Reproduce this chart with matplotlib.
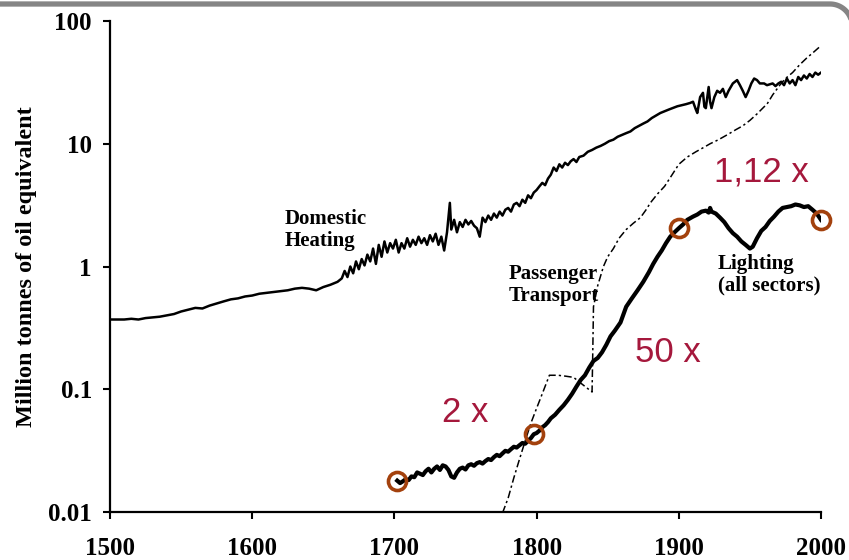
import numpy as np
import matplotlib

matplotlib.use("Agg")
import matplotlib.pyplot as plt
from matplotlib.lines import Line2D

# =========================
# DATA (million tonnes of oil equivalent)
# =========================

heating_years = [
    1500, 1510, 1515, 1520, 1525, 1530, 1535, 1540, 1545, 1550,
    1555, 1560, 1565, 1570, 1575, 1580, 1585, 1590, 1595, 1600,
    1605, 1610, 1615, 1620, 1625, 1630, 1635, 1640, 1645, 1650,
    1655, 1660, 1663, 1665, 1667, 1669, 1671, 1673, 1675, 1677,
    1679, 1681, 1683, 1685, 1687, 1689, 1691, 1693, 1695, 1697,
    1699, 1701, 1703, 1705, 1707, 1709, 1711, 1713, 1715, 1717,
    1719, 1721, 1723, 1725, 1727, 1729, 1731, 1733, 1735, 1737,
    1739, 1740, 1742, 1744, 1746, 1748, 1750, 1752, 1754, 1756,
    1758, 1760, 1762, 1764, 1766, 1768, 1770, 1772, 1774, 1776,
    1778, 1780, 1782, 1784, 1786, 1788, 1790, 1792, 1794, 1796,
    1798, 1800, 1802, 1804, 1806, 1808, 1810, 1812, 1814, 1816,
    1818, 1820, 1822, 1824, 1826, 1828, 1830, 1833, 1836, 1839,
    1842, 1845, 1848, 1851, 1854, 1857, 1860, 1863, 1866, 1869,
    1872, 1875, 1878, 1881, 1884, 1887, 1890, 1893, 1896, 1899,
    1902, 1905, 1908, 1910, 1912, 1913, 1915, 1917, 1918, 1919,
    1921, 1922, 1923, 1925, 1927, 1929, 1931, 1933, 1935, 1938,
    1941, 1943, 1945, 1947, 1949, 1951, 1953, 1955, 1957, 1960,
    1962, 1964, 1966, 1968, 1970, 1972, 1974, 1976, 1978, 1980,
    1982, 1984, 1986, 1988, 1990, 1992, 1994, 1996, 1998, 2000,
]
heating_values = [
    0.37, 0.37, 0.375, 0.37, 0.38, 0.385, 0.39, 0.40, 0.41, 0.43,
    0.445, 0.46, 0.455, 0.48, 0.50, 0.52, 0.54, 0.55, 0.57, 0.58,
    0.60, 0.61, 0.62, 0.63, 0.64, 0.66, 0.67, 0.66, 0.64, 0.68,
    0.71, 0.75, 0.80, 0.92, 0.82, 1.0, 0.88, 1.1, 0.95, 1.15,
    1.02, 1.25, 1.1, 1.4, 1.05, 1.5, 1.2, 1.6, 1.3, 1.55,
    1.4, 1.65, 1.3, 1.55, 1.4, 1.7, 1.45, 1.65, 1.5, 1.75,
    1.55, 1.7, 1.5, 1.8, 1.6, 1.85, 1.5, 1.75, 1.35, 1.9,
    3.3, 2.0, 2.4, 1.9, 2.3, 2.1, 2.4, 2.2, 2.35, 2.15,
    2.05, 1.75, 2.5, 2.3, 2.6, 2.4, 2.7, 2.5, 2.8, 2.6,
    2.9, 3.0, 2.8, 3.2, 3.3, 3.1, 3.5, 3.3, 3.8, 3.6,
    4.0, 4.2, 4.5, 4.8, 4.6, 5.2, 5.6, 6.4, 6.0, 6.8,
    6.4, 7.0, 6.7, 7.2, 7.5, 7.1, 7.8, 8.0, 8.6, 8.9,
    9.3, 9.6, 10.0, 10.5, 10.8, 11.4, 11.8, 12.2, 12.6, 13.4,
    14.0, 14.6, 15.2, 16.2, 17.0, 17.8, 18.4, 19.0, 19.6, 20.2,
    20.6, 21.0, 21.5, 22.0, 19.0, 17.8, 24.0, 26.0, 20.0, 19.5,
    29.0, 22.0, 19.5, 24.0, 27.0, 26.0, 28.0, 24.0, 27.0, 31.0,
    33.0, 30.0, 27.0, 24.0, 27.0, 31.0, 34.0, 33.0, 31.0, 31.0,
    30.0, 30.5, 31.0, 29.5, 31.0, 32.0, 30.0, 34.0, 31.0, 33.0,
    30.0, 35.0, 33.0, 36.0, 34.0, 37.0, 35.0, 38.0, 36.5, 38.0,
]

transport_years = [
    1776, 1780, 1784, 1788, 1792, 1796, 1800, 1804, 1809, 1815,
    1820, 1826, 1832, 1839, 1839.5, 1840, 1843, 1847, 1850, 1854,
    1858, 1863, 1868, 1873, 1877, 1880, 1885, 1890, 1894, 1900,
    1906, 1912, 1918, 1922, 1928, 1935, 1940, 1945, 1950, 1955,
    1960, 1962, 1966, 1971, 1975, 1980, 1985, 1990, 1995, 2000,
]
transport_values = [
    0.0098, 0.013, 0.019, 0.027, 0.038, 0.053, 0.07, 0.092, 0.13, 0.13,
    0.128, 0.125, 0.11, 0.095, 0.2, 0.47, 0.7, 1.0, 1.2, 1.4,
    1.7, 2.0, 2.25, 2.5, 2.9, 3.3, 3.9, 4.5, 5.3, 6.8,
    7.8, 8.6, 9.4, 10.0, 10.8, 12.0, 13.0, 14.0, 15.5, 17.5,
    20.0, 21.0, 25.0, 30.0, 34.0, 38.0, 44.0, 50.0, 56.0, 63.0,
]

lighting_years = [
    1702, 1704, 1706, 1708, 1710, 1712, 1714, 1716, 1718, 1720,
    1722, 1724, 1726, 1728, 1730, 1732, 1734, 1736, 1738, 1740,
    1742, 1744, 1746, 1748, 1750, 1752, 1754, 1756, 1758, 1760,
    1762, 1764, 1766, 1768, 1770, 1772, 1774, 1776, 1778, 1780,
    1782, 1784, 1786, 1788, 1790, 1792, 1794, 1796, 1798, 1800,
    1802, 1804, 1806, 1808, 1810, 1813, 1816, 1819, 1822, 1825,
    1828, 1831, 1834, 1837, 1840, 1843, 1846, 1849, 1852, 1855,
    1859, 1863, 1867, 1871, 1875, 1879, 1882, 1885, 1888, 1891,
    1894, 1897, 1900, 1903, 1906, 1910, 1913, 1916, 1919, 1921,
    1922, 1923, 1926, 1929, 1932, 1935, 1938, 1941, 1944, 1947,
    1950, 1952, 1955, 1958, 1961, 1964, 1967, 1970, 1973, 1976,
    1979, 1982, 1985, 1988, 1991, 1994, 1997, 2000,
]
lighting_values = [
    0.018, 0.0172, 0.0178, 0.0185, 0.0182, 0.0195, 0.0192, 0.021, 0.0205, 0.020,
    0.0215, 0.0225, 0.021, 0.0225, 0.0235, 0.022, 0.024, 0.0235, 0.022, 0.0195,
    0.019, 0.021, 0.0225, 0.023, 0.0222, 0.024, 0.0245, 0.0238, 0.025, 0.0255,
    0.0248, 0.026, 0.027, 0.0265, 0.028, 0.0292, 0.0285, 0.030, 0.0315, 0.031,
    0.0325, 0.034, 0.0335, 0.035, 0.0365, 0.036, 0.038, 0.040, 0.043, 0.044,
    0.046, 0.049, 0.051, 0.054, 0.058, 0.062, 0.068, 0.074, 0.082, 0.092,
    0.105, 0.119, 0.13, 0.15, 0.17, 0.18, 0.20, 0.23, 0.27, 0.30,
    0.35, 0.47, 0.55, 0.64, 0.75, 0.90, 1.05, 1.2, 1.35, 1.55,
    1.75, 1.9, 2.05, 2.2, 2.4, 2.55, 2.65, 2.8, 2.85, 2.75,
    3.0, 2.8, 2.7, 2.5, 2.3, 2.05, 1.87, 1.75, 1.6, 1.5,
    1.4, 1.45, 1.7, 1.95, 2.1, 2.35, 2.55, 2.8, 3.0, 3.05,
    3.1, 3.2, 3.15, 3.05, 3.1, 2.9, 2.7, 2.4,
]

# lighting growth markers
ring_years = [1702, 1798, 1900, 2000]
growth_labels = ["2 x", "50 x", "1,12 x"]
growth_pos = [(1750, 0.065), (1892, 0.20), (1958, 5.9)]

x_ticks = [1500, 1600, 1700, 1800, 1900, 2000]
y_ticks = [0.01, 0.1, 1, 10, 100]
y_tick_labels = ["0.01", "0.1", "1", "10", "100"]

SERIF = "Liberation Serif"
RED = "#a5183c"
RING = "#a3410d"

# =========================
# PLOT
# =========================

fig = plt.figure(figsize=(8.49, 5.6), dpi=100)
W, H = 849, 560

ax = fig.add_axes([110 / W, 1 - 512 / H, 711 / W, 491 / H])

ax.plot(heating_years, heating_values, color="black", lw=1.8)
ax.plot(
    transport_years,
    transport_values,
    color="black",
    lw=1.1,
    linestyle=(0, (5, 2, 1.5, 2)),
)
ax.plot(lighting_years, lighting_values, color="black", lw=3.0)

ring_values = [lighting_values[lighting_years.index(y)] for y in ring_years]
ax.plot(
    ring_years,
    ring_values,
    linestyle="none",
    marker="o",
    markersize=13,
    markerfacecolor="none",
    markeredgecolor=RING,
    markeredgewidth=2.6,
    clip_on=False,
    zorder=5,
)

for label, (gx, gy) in zip(growth_labels, growth_pos):
    ax.text(
        gx, gy, label,
        color=RED,
        fontsize=25,
        family="Liberation Sans",
        ha="center",
        va="center",
    )

ax.text(1623, 1.98, "Domestic\nHeating", family=SERIF, weight="bold",
        fontsize=15, ha="left", va="center", linespacing=1.1)
ax.text(1780, 0.71, "Passenger\nTransport", family=SERIF, weight="bold",
        fontsize=15, ha="left", va="center", linespacing=1.1)
ax.text(1927.5, 0.85, "Lighting\n(all sectors)", family=SERIF, weight="bold",
        fontsize=15, ha="left", va="center", linespacing=1.1)

ax.set_yscale("log")
ax.set_xlim(1500, 2000)
ax.set_ylim(0.01, 100)

ax.set_xticks(x_ticks)
ax.set_yticks(y_ticks)
ax.set_yticklabels(y_tick_labels)
ax.yaxis.set_minor_locator(matplotlib.ticker.NullLocator())

for lbl in ax.get_xticklabels() + ax.get_yticklabels():
    lbl.set_family(SERIF)
    lbl.set_weight("bold")
    lbl.set_fontsize(18)

ax.tick_params(axis="both", direction="out", length=5, width=1.5, color="black")
ax.tick_params(axis="x", pad=13)
ax.tick_params(axis="y", pad=8)

for side in ["top", "right"]:
    ax.spines[side].set_visible(False)
for side in ["left", "bottom"]:
    ax.spines[side].set_linewidth(1.6)

fig.text(27 / W, 1 - 267 / H, "Million tonnes of oil equivalent",
         family=SERIF, weight="bold", fontsize=17.5, rotation=90,
         ha="center", va="center")

# gray slide frame, rounded at the top right corner
r = 22
cx, cy = 830, 4 + r
theta = np.linspace(np.pi / 2, 0, 30)
frame_x = np.concatenate([[-10], cx + r * np.cos(theta), [cx + r]])
frame_y = np.concatenate([[4], cy - r * np.sin(theta), [H + 10]])
fig.add_artist(Line2D(frame_x / W, 1 - frame_y / H, color="#858585", lw=3.8,
                      transform=fig.transFigure))

fig.savefig("out.png", dpi=100)
